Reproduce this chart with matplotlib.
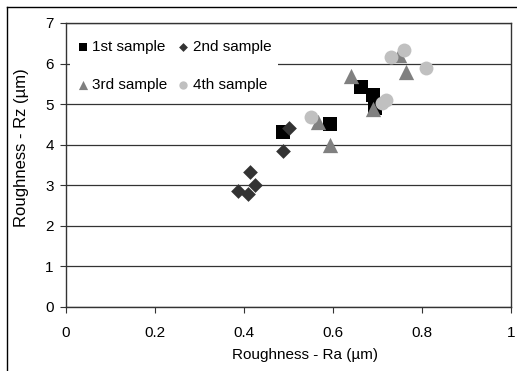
import matplotlib
matplotlib.use("Agg")
import matplotlib.pyplot as plt
from matplotlib.lines import Line2D

plt.rcParams['font.family'] = ['Liberation Sans', 'DejaVu Sans']

# Data
ra_1st = [0.487, 0.593, 0.664, 0.690, 0.695]
rz_1st = [4.32, 4.50, 5.42, 5.22, 4.90]

ra_2nd = [0.502, 0.487, 0.413, 0.425, 0.387, 0.408]
rz_2nd = [4.40, 3.85, 3.32, 3.00, 2.86, 2.78]

ra_3rd = [0.567, 0.593, 0.640, 0.691, 0.749, 0.764]
rz_3rd = [4.57, 3.99, 5.69, 4.89, 6.21, 5.80]

ra_4th = [0.550, 0.709, 0.720, 0.730, 0.760, 0.808]
rz_4th = [4.69, 5.03, 5.11, 6.17, 6.33, 5.88]

labels = ["1st sample", "2nd sample", "3rd sample", "4th sample"]

fig = plt.figure(figsize=(5.17, 3.71), dpi=100)
ax = fig.add_axes([66/517, 1-307/371, (511-66)/517, (307-23)/371])

h1 = ax.scatter(ra_1st, rz_1st, marker='s', s=9.5**2, color='#000000', linewidths=0, label=labels[0], zorder=3)
h2 = ax.scatter(ra_2nd, rz_2nd, marker='D', s=7.5**2, color='#333333', linewidths=0, label=labels[1], zorder=3)
h3 = ax.scatter(ra_3rd, rz_3rd, marker='^', s=11**2, color='#808080', linewidths=0, label=labels[2], zorder=3)
h4 = ax.scatter(ra_4th, rz_4th, marker='o', s=10**2, color='#c0c0c0', linewidths=0, label=labels[3], zorder=3)

ax.set_xlim(0, 1)
ax.set_ylim(0, 7)
ax.set_xticks([0, 0.2, 0.4, 0.6, 0.8, 1])
ax.set_xticklabels(["0", "0.2", "0.4", "0.6", "0.8", "1"])
ax.set_yticks(range(0, 8))
ax.yaxis.grid(True, color='#333333', linewidth=0.9)
ax.set_axisbelow(True)
ax.tick_params(axis='both', labelsize=11, length=4, width=0.8, color='#333333')
ax.tick_params(axis='x', pad=10.0)
ax.tick_params(axis='y', pad=4.8)
for sp in ax.spines.values():
    sp.set_color('#333333')
    sp.set_linewidth(1.0)

ax.set_xlabel("Roughness - Ra (µm)", fontsize=11)
ax.xaxis.set_label_coords(0.538, -0.169)
ax.xaxis.label.set_va('center')
ax.set_ylabel("Roughness - Rz (µm)", fontsize=12)
ax.yaxis.set_label_coords(-0.099, 0.5616)
ax.yaxis.label.set_va('center')

# row-major legend order: 1st, 2nd / 3rd, 4th (matplotlib fills columns first)
leg = ax.legend([h1, h3, h2, h4], [labels[0], labels[2], labels[1], labels[3]],
                loc='upper left', bbox_to_anchor=(0.008, 0.966), ncol=2, frameon=True,
                fontsize=11, handlelength=0.8, handletextpad=0.25, columnspacing=0.6,
                labelspacing=1.62, borderpad=0.45, markerscale=0.6, borderaxespad=0.0)
leg.get_frame().set_facecolor('white')
leg.get_frame().set_edgecolor('none')
leg.get_frame().set_alpha(1.0)
leg.set_zorder(5)

# outer chart border (left and top visible)
fig.add_artist(Line2D([6.5/517, 6.5/517], [0, 1-6.5/371], transform=fig.transFigure, color='black', linewidth=1.0))
fig.add_artist(Line2D([6.5/517, 1], [1-6.5/371, 1-6.5/371], transform=fig.transFigure, color='black', linewidth=1.0))

fig.savefig("out.png", dpi=100)
